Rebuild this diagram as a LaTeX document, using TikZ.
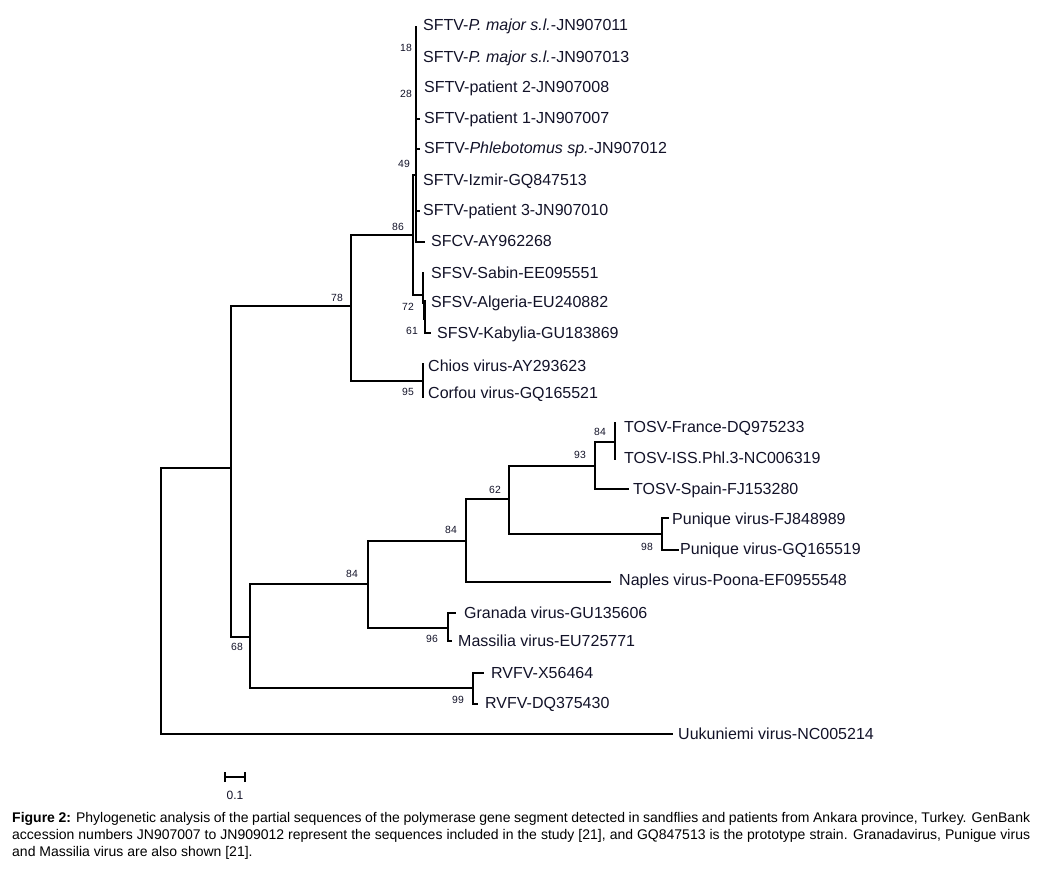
\documentclass[tikz,border=0pt]{standalone}
\usepackage{fontspec}
\setmainfont{Liberation Sans}
\definecolor{txt}{RGB}{18,18,40}
\tikzset{
  leaf/.style={anchor=west, inner sep=0pt, text=txt, text height=11.4pt, text depth=0pt, font=\fontsize{16}{18}\selectfont},
  boot/.style={anchor=center, inner sep=0pt, text=txt, text height=7.4pt, text depth=0pt, font=\fontsize{10.4}{12}\selectfont},
  br/.style={line width=2.2pt, line cap=rect, line join=miter},
  capline/.style={anchor=west, inner sep=0pt, text=black, font=\fontsize{14}{16}\selectfont}
}
\begin{document}
\begin{tikzpicture}[x=1pt,y=-1pt]
\useasboundingbox (0,0) rectangle (1040,868);
% leaves
\node[leaf] (l1) at (423,25) {SFTV-\textit{P. major s.l.}-JN907011};
\node[leaf] (l2) at (423,57) {SFTV-\textit{P. major s.l.}-JN907013};
\node[leaf] (l3) at (424,87) {SFTV-patient 2-JN907008};
\node[leaf] (l4) at (424,118) {SFTV-patient 1-JN907007};
\node[leaf] (l5) at (424,148) {SFTV-\textit{Phlebotomus sp.}-JN907012};
\node[leaf] (l6) at (423,180) {SFTV-Izmir-GQ847513};
\node[leaf] (l7) at (423,210) {SFTV-patient 3-JN907010};
\node[leaf] (l8) at (431,241) {SFCV-AY962268};
\node[leaf] (l9) at (431,273) {SFSV-Sabin-EE095551};
\node[leaf] (l10) at (431,302) {SFSV-Algeria-EU240882};
\node[leaf] (l11) at (437,333) {SFSV-Kabylia-GU183869};
\node[leaf] (l12) at (428,366) {Chios virus-AY293623};
\node[leaf] (l13) at (428,393) {Corfou virus-GQ165521};
\node[leaf] (l14) at (624,427) {TOSV-France-DQ975233};
\node[leaf] (l15) at (624,458) {TOSV-ISS.Phl.3-NC006319};
\node[leaf] (l16) at (633,489) {TOSV-Spain-FJ153280};
\node[leaf] (l17) at (672,519) {Punique virus-FJ848989};
\node[leaf] (l18) at (680,549) {Punique virus-GQ165519};
\node[leaf] (l19) at (619,580) {Naples virus-Poona-EF0955548};
\node[leaf] (l20) at (464,613) {Granada virus-GU135606};
\node[leaf] (l21) at (458,641) {Massilia virus-EU725771};
\node[leaf] (l22) at (491,673) {RVFV-X56464};
\node[leaf] (l23) at (485,703) {RVFV-DQ375430};
\node[leaf] (l24) at (678,734) {Uukuniemi virus-NC005214};
% internal nodes
\coordinate (root) at (161,468);
\coordinate (n68) at (231,468);
\coordinate (n78) at (351,306);
\coordinate (n86) at (413,235);
\coordinate (n49) at (416,175);
\coordinate (n72) at (423,295);
\coordinate (n95) at (423,381);
\coordinate (n68b) at (250,637);
\coordinate (n84a) at (368,584);
\coordinate (n84b) at (466,541);
\coordinate (n62) at (509,499);
\coordinate (n93) at (595,466);
\coordinate (n84c) at (615,442);
\coordinate (n98) at (662,534);
\coordinate (n96) at (448,628);
\coordinate (n99) at (473,688);
% branches
\draw[br] (n68) -| (root) |- (672,734);
\draw[br] (n78) -| (n68) |- (n68b);
\draw[br] (n86) -| (n78) |- (n95);
\draw[br] (423,364) -- (423,397);
\draw[br] (n49) -| (413,295) -- (n72);
\draw[br] (416,27) -- (416,242) -- (424,242);
\draw[br] (416,119) -- (419,119);
\draw[br] (416,149) -- (419,149);
\draw[br] (416,211) -- (419,211);
\draw[br] (423,273) -- (423,303);
\draw[line width=3.5pt] (424.5,300) -- (424.5,320);
\draw[br] (425,318) -- (425,333) -- (430,333);
\draw[br] (n84a) -| (n68b) |- (n99);
\draw[br] (n84b) -| (n84a) |- (n96);
\draw[br] (455,613) -| (n96) |- (451,641);
\draw[br] (483,673) -| (n99) |- (477,704);
\draw[br] (n62) -| (n84b) |- (610,582);
\draw[br] (n93) -| (n62) |- (n98);
\draw[br] (n84c) -| (n93) |- (628,489);
\draw[br] (615,423) -- (615,459);
\draw[br] (668,518) -| (n98) |- (678,550);
% bootstrap values
\node[boot] (b18) at (406,48) {18};
\node[boot] (b28) at (406,94) {28};
\node[boot] (b49) at (404,164) {49};
\node[boot] (b86) at (398,227) {86};
\node[boot] (b72) at (408,307) {72};
\node[boot] (b61) at (412,331) {61};
\node[boot] (b78) at (337,298) {78};
\node[boot] (b95) at (408,392) {95};
\node[boot] (b84c) at (600,432) {84};
\node[boot] (b93) at (580,455) {93};
\node[boot] (b62) at (495,490) {62};
\node[boot] (b84b) at (451,530) {84};
\node[boot] (b98) at (647,547) {98};
\node[boot] (b84a) at (352,574) {84};
\node[boot] (b96) at (432,639) {96};
\node[boot] (b68) at (237,647) {68};
\node[boot] (b99) at (458,700) {99};
% scale bar
\coordinate (sb1) at (225,777);
\coordinate (sb2) at (245,777);
\draw[line width=1.5pt] (sb1) -- (sb2);
\draw[line width=1.5pt] ([yshift=-5pt]sb1) -- ([yshift=5pt]sb1);
\draw[line width=1.5pt] ([yshift=-5pt]sb2) -- ([yshift=5pt]sb2);
\node[anchor=center, inner sep=0pt, text=txt, font=\fontsize{12}{14}\selectfont] (sbl) at (235,795) {0.1};
% caption
\node[capline] (c1) at (12,819) {\makebox[1018pt][s]{\textbf{Figure 2:} Phylogenetic analysis of the partial sequences of the polymerase gene segment detected in sandflies and patients from Ankara province, Turkey. GenBank}};
\node[capline] (c2) at (12,836) {\makebox[1018pt][s]{accession numbers JN907007 to JN909012 represent the sequences included in the study [21], and GQ847513 is the prototype strain. Granadavirus, Punigue virus}};
\node[capline] (c3) at (12,853) {and Massilia virus are also shown [21].};
\end{tikzpicture}
\end{document}
